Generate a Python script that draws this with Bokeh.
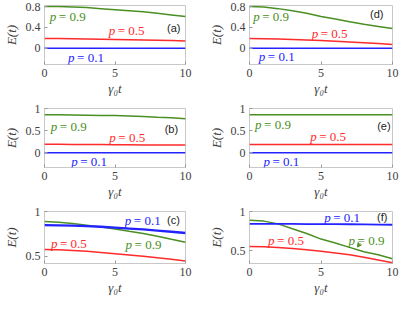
from bokeh.plotting import figure
from bokeh.layouts import column, row
from bokeh.models import Range1d, FixedTicker, Arrow, VeeHead
from bokeh.core.properties import value
from bokeh.embed import file_html
from bokeh.resources import INLINE

# ---------------- data ----------------
t = [0, 1, 2, 3, 4, 5, 6, 7, 8, 9, 10]

a_p09 = [0.80, 0.80, 0.79, 0.78, 0.76, 0.74, 0.72, 0.70, 0.67, 0.64, 0.61]
a_p05 = [0.19, 0.19, 0.185, 0.18, 0.175, 0.17, 0.165, 0.16, 0.155, 0.15, 0.14]
a_p01 = [0.0, 0.0, 0.0, 0.0, 0.0, 0.0, 0.0, 0.0, 0.0, 0.0, 0.0]

d_p09 = [0.80, 0.79, 0.76, 0.72, 0.67, 0.61, 0.56, 0.51, 0.46, 0.42, 0.38]
d_p05 = [0.19, 0.185, 0.18, 0.17, 0.16, 0.15, 0.135, 0.12, 0.105, 0.09, 0.075]
d_p01 = [0.0, 0.0, 0.0, 0.0, 0.0, 0.0, 0.0, 0.0, 0.0, 0.0, 0.0]

b_p09 = [0.86, 0.86, 0.855, 0.85, 0.845, 0.84, 0.83, 0.82, 0.80, 0.79, 0.77]
b_p05 = [0.195, 0.195, 0.19, 0.19, 0.19, 0.185, 0.185, 0.18, 0.18, 0.175, 0.175]
b_p01 = [0.0, 0.0, 0.0, 0.0, 0.0, 0.0, 0.0, 0.0, 0.0, 0.0, 0.0]

e_p09 = [0.86, 0.86, 0.86, 0.86, 0.86, 0.86, 0.86, 0.86, 0.86, 0.86, 0.86]
e_p05 = [0.19, 0.19, 0.19, 0.19, 0.19, 0.19, 0.19, 0.19, 0.19, 0.19, 0.19]
e_p01 = [0.0, 0.0, 0.0, 0.0, 0.0, 0.0, 0.0, 0.0, 0.0, 0.0, 0.0]

c_p01 = [0.847, 0.845, 0.842, 0.837, 0.83, 0.82, 0.81, 0.80, 0.787, 0.774, 0.76]
c_p09 = [0.889, 0.88, 0.866, 0.848, 0.828, 0.806, 0.78, 0.755, 0.725, 0.69, 0.656]
c_p05 = [0.576, 0.573, 0.566, 0.556, 0.544, 0.53, 0.515, 0.50, 0.484, 0.467, 0.449]

f_p01 = [0.843, 0.843, 0.842, 0.842, 0.841, 0.84, 0.839, 0.838, 0.836, 0.834, 0.832]
f_p09 = [0.888, 0.878, 0.843, 0.78, 0.72, 0.65, 0.60, 0.545, 0.49, 0.45, 0.40]
f_p05 = [0.556, 0.552, 0.543, 0.53, 0.515, 0.496, 0.474, 0.45, 0.42, 0.385, 0.35]

x_ticks = [0, 5, 10]
x_tick_labels = ["0", "5", "10"]
y_ticks_ad = [0, 0.4, 0.8]
y_tick_labels_ad = ["0", "0.4", "0.8"]
y_ticks_be = [0, 0.5, 1]
y_tick_labels_be = ["0", "0.5", "1"]
y_ticks_cf = [0.5, 1]
y_tick_labels_cf = ["0.5", "1"]

series_names = ["p = 0.9", "p = 0.5", "p = 0.1"]

# ---------------- style ----------------
GREEN = "#4a8f22"
RED = "#ff2a2a"
BLUE = "#2323ff"
GRAY = "#c8c8c8"
TICKC = "#404040"
SERIF = "Liberation Serif"

panels = {
    "a": dict(yr=(-0.31, 0.82), yt=y_ticks_ad, yl=y_tick_labels_ad,
              series=[(a_p09, GREEN), (a_p05, RED), (a_p01, BLUE)],
              lab=[(0.38, 0.61), (4.55, 0.335), (1.67, -0.17)], tag=(9.17, 0.39)),
    "d": dict(yr=(-0.31, 0.82), yt=y_ticks_ad, yl=y_tick_labels_ad,
              series=[(d_p09, GREEN), (d_p05, RED), (d_p01, BLUE)],
              lab=[(0.26, 0.61), (4.35, 0.28), (0.65, -0.15)], tag=(8.9, 0.65)),
    "b": dict(yr=(-0.33, 1.0), yt=y_ticks_be, yl=y_tick_labels_be,
              series=[(b_p09, GREEN), (b_p05, RED), (b_p01, BLUE)],
              lab=[(0.45, 0.60), (4.6, 0.35), (1.9, -0.19)], tag=(9.0, 0.54)),
    "e": dict(yr=(-0.33, 1.0), yt=y_ticks_be, yl=y_tick_labels_be,
              series=[(e_p09, GREEN), (e_p05, RED), (e_p01, BLUE)],
              lab=[(0.39, 0.64), (4.25, 0.37), (0.98, -0.2)], tag=(9.4, 0.6)),
    "c": dict(yr=(0.42, 1.0), yt=y_ticks_cf, yl=y_tick_labels_cf,
              series=[(c_p09, GREEN), (c_p05, RED), (c_p01, BLUE)],
              lab=[(5.75, 0.63), (0.46, 0.64), (5.7, 0.905)], tag=(9.15, 0.9),
              widths=[1.5, 1.5, 2.3]),
    "f": dict(yr=(0.34, 1.0), yt=y_ticks_cf, yl=y_tick_labels_cf,
              series=[(f_p09, GREEN), (f_p05, RED), (f_p01, BLUE)],
              lab=[(6.93, 0.636), (1.3, 0.626), (5.23, 0.93)], tag=(9.28, 0.93),
              widths=[1.5, 1.5, 1.8]),
}

WL, WR = 205, 194
ROWS = [(98, 5, 32), (103, 10, 31), (96, 10, 27)]


def make(key, width, height, bl, br, bt, bb):
    P = panels[key]
    p = figure(width=width, height=height, output_backend="svg", toolbar_location=None,
               tools="", x_range=Range1d(0, 10), y_range=Range1d(*P["yr"]),
               min_border_left=bl, min_border_right=br, min_border_top=bt, min_border_bottom=bb)
    p.outline_line_color = GRAY
    p.outline_line_width = 1
    p.xgrid.visible = False
    p.ygrid.visible = False
    p.background_fill_color = "white"
    p.border_fill_color = "white"

    p.xaxis.ticker = FixedTicker(ticks=x_ticks)
    p.xaxis.major_label_overrides = {k: v for k, v in zip(x_ticks, x_tick_labels)}
    p.yaxis.ticker = FixedTicker(ticks=P["yt"])
    p.yaxis.major_label_overrides = {k: v for k, v in zip(P["yt"], P["yl"])}
    for ax in (p.xaxis[0], p.yaxis[0]):
        ax.axis_line_color = None
        ax.major_tick_in = 3
        ax.major_tick_out = 0
        ax.major_tick_line_color = "#999999"
        ax.minor_tick_line_color = None
        ax.major_label_text_font = SERIF
        ax.major_label_text_font_size = "12px"
        ax.major_label_text_color = TICKC
        ax.major_label_standoff = 4
        ax.axis_label_text_font = SERIF
        ax.axis_label_text_font_style = "italic"
        ax.axis_label_text_font_size = "13px"
        ax.axis_label_text_color = TICKC
    p.xaxis.axis_label = "γ₀t"
    p.xaxis.axis_label_standoff = 1
    p.yaxis.axis_label = "E(t)"
    p.yaxis.axis_label_standoff = 4

    widths = P.get("widths", [1.5, 1.5, 1.5])
    for (vals, col), w, name, (lx, ly) in zip(P["series"], widths, series_names, P["lab"]):
        p.line(t, vals, line_color=col, line_width=w)
        p.text(x=[lx], y=[ly], text=["p"], text_font=value(SERIF), text_font_style="italic",
               text_font_size="13px", text_color=col, text_baseline="middle", text_align="left")
        p.text(x=[lx], y=[ly], text=[name[1:].strip()], x_offset=9, text_font=value(SERIF),
               text_font_size="13px", text_color=col, text_baseline="middle", text_align="left")
    p.text(x=[P["tag"][0]], y=[P["tag"][1]], text=["(%s)" % key], text_font=value("Liberation Sans"),
           text_font_size="11px", text_color="#222222", text_baseline="middle", text_align="center")
    if key == "f":
        p.add_layout(Arrow(end=VeeHead(size=4, line_color=GREEN, fill_color=GREEN, line_width=1),
                           x_start=7.75, y_start=0.60, x_end=7.55, y_end=0.55,
                           line_color=GREEN, line_width=1))
    return p


rows = []
for (left, right), (h, bt, bb) in zip([("a", "d"), ("b", "e"), ("c", "f")], ROWS):
    pl = make(left, WL, h, 35, 20, bt, bb)
    pr = make(right, WR, h, 38, 7, bt, bb)
    rows.append(row(pl, pr, spacing=0))

layout = column(*rows, spacing=0)
open("out.html", "w").write(file_html(layout, INLINE))
